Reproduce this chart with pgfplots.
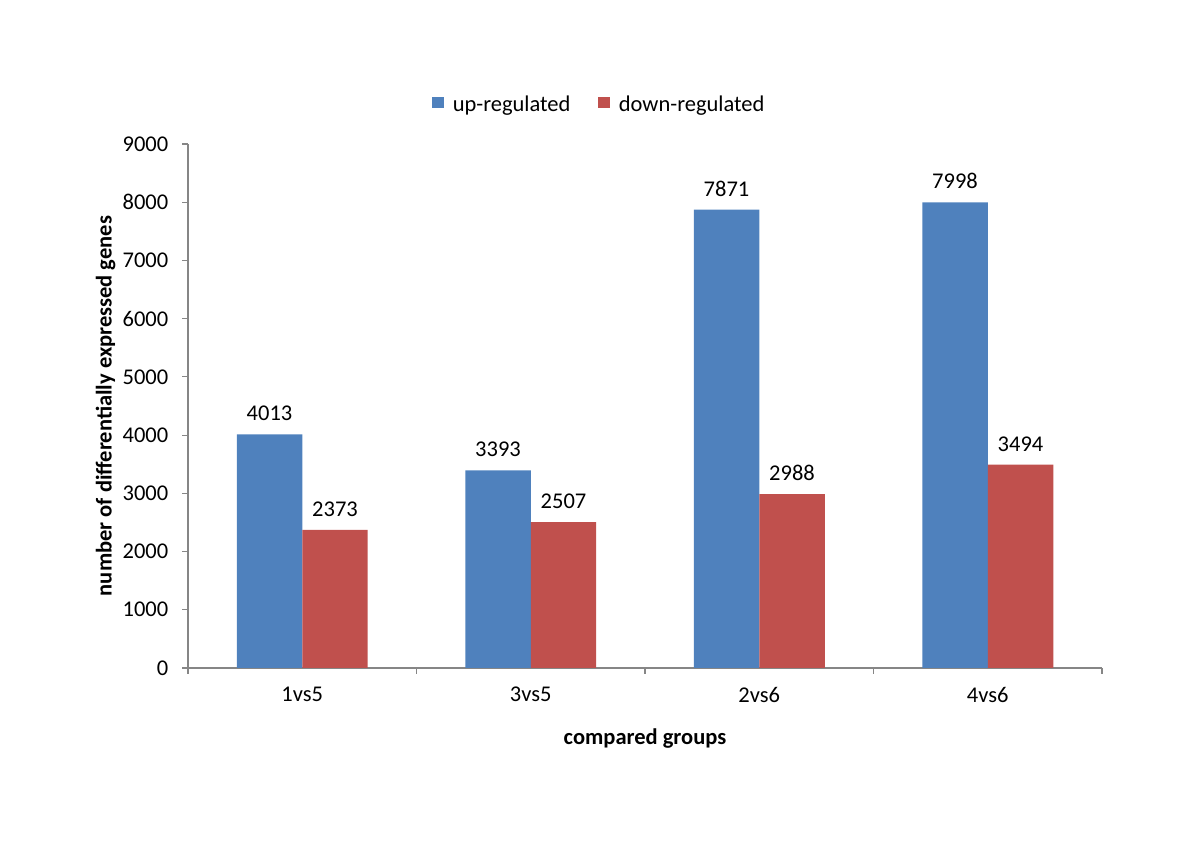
\documentclass[border=0pt]{standalone}
\usepackage{pgfplots}
\pgfplotsset{compat=1.18}
\usepackage{fontspec}
\setmainfont{Carlito}
\definecolor{upblue}{HTML}{4F81BD}
\definecolor{downred}{HTML}{C0504D}
\definecolor{axgray}{HTML}{868686}
\begin{document}
\fontsize{16}{19}\selectfont
\begin{tikzpicture}[x=0.25mm,y=0.25mm]
\path[use as bounding box] (0,0) rectangle (1200,849);
\begin{axis}[
  at={(188*0.25mm,181*0.25mm)}, anchor=south west,
  scale only axis, width=228.5mm, height=131mm,
  ymin=0, ymax=9000, xmin=-0.5, xmax=3.5,
  axis x line*=bottom, axis y line*=left,
  axis line style={draw=axgray, line width=0.35mm},
  every outer x axis line/.append style={-}, every outer y axis line/.append style={-},
  ytick={0,1000,...,9000},
  tick align=outside,
  major tick length=1.4mm,
  tick style={draw=axgray, line width=0.3mm},
  xtick={0,1,2,3},
  xticklabels={1vs5,3vs5,2vs6,4vs6},
  x tick style={draw=none},
  extra x ticks={-0.5,0.5,1.5,2.5,3.5},
  extra x tick labels={},
  extra x tick style={x tick style={draw=axgray, line width=0.3mm}},
  /pgf/number format/assume math mode=true,
  yticklabel style={/pgf/number format/1000 sep={}, font=\fontsize{16}{19}\selectfont, xshift=-1.6mm},
  xticklabel style={font=\fontsize{16}{19}\selectfont, yshift=-1.5mm},
  xlabel={\textbf{compared groups}},
  ylabel={\textbf{number of differentially expressed genes}},
  label style={font=\fontsize{16}{19}\selectfont},
  xlabel style={yshift=0mm},
  ylabel style={yshift=-2mm},
  ybar, bar width=0.2866,
  nodes near coords,
  every node near coord/.append style={font=\fontsize{16}{19}\selectfont, /pgf/number format/1000 sep={}, yshift=1.4mm},
  legend style={at={(0.262,1.074)}, anchor=west, draw=none, legend columns=2,
    font=\fontsize{16}{19}\selectfont,
    /tikz/every even column/.append style={column sep=6.2mm},
    /tikz/every odd column/.append style={column sep=1.6mm}},
  legend image code/.code={\fill[#1] (0,-0.75mm) rectangle (2.9mm,2.15mm);},
]
\addplot[fill=upblue, draw=none, bar shift=-0.1433] coordinates {(0,4013) (1,3393) (2,7871) (3,7998)};
\addplot[fill=downred, draw=none, bar shift=0.1433] coordinates {(0,2373) (1,2507) (2,2988) (3,3494)};
\legend{up-regulated, down-regulated}
\end{axis}
\end{tikzpicture}
\end{document}
